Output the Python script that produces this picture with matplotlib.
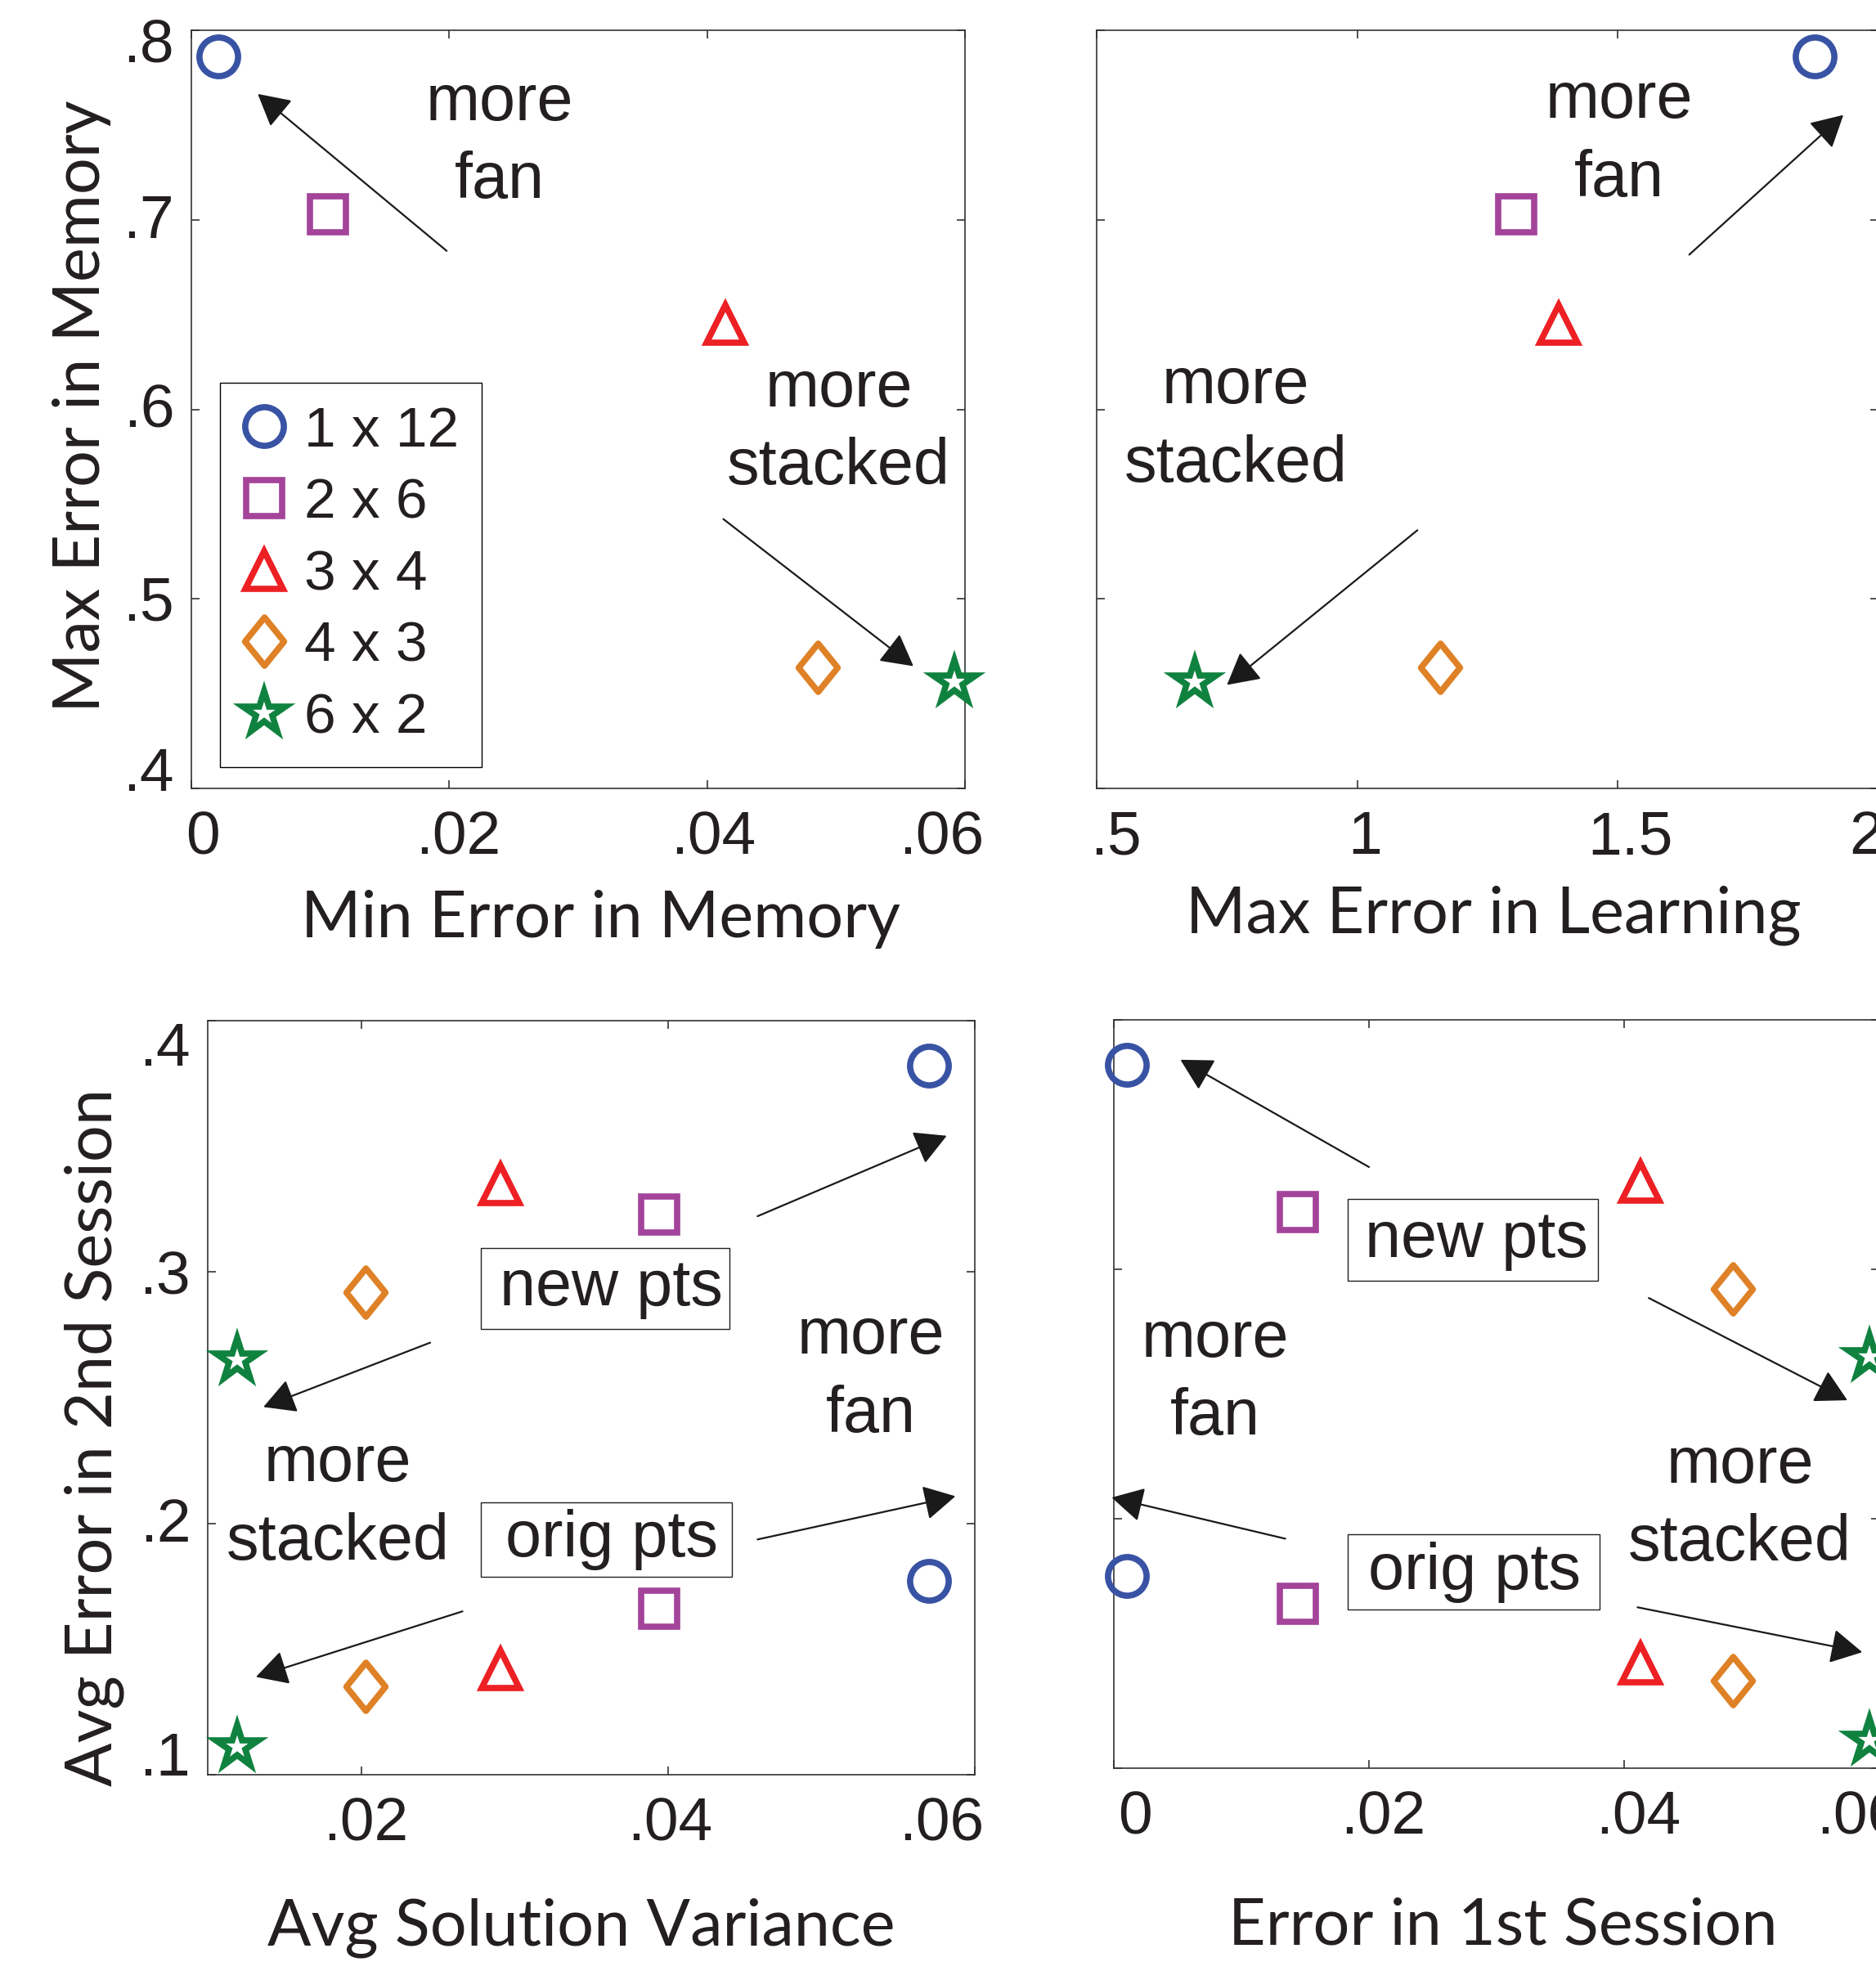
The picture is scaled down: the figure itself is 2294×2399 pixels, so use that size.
import matplotlib
matplotlib.use('Agg')
import matplotlib.pyplot as plt
from matplotlib.markers import MarkerStyle
from matplotlib.path import Path
from matplotlib.patches import Rectangle
from matplotlib.transforms import ScaledTranslation

W, H = 2294, 2399
DPI = 100

# ---------------- data ----------------
labels = ['1 x 12', '2 x 6', '3 x 4', '4 x 3', '6 x 2']
colors = ['#3953a4', '#a3449a', '#ed2024', '#df8126', '#10823f']

min_err_memory = [0.0021, 0.0106, 0.0414, 0.0486, 0.0592]
max_err_memory = [0.786, 0.703, 0.645, 0.464, 0.456]
max_err_learning = [1.877, 1.305, 1.387, 1.159, 0.688]

avg_solution_variance = [0.0570, 0.0394, 0.0291, 0.0203, 0.0119]
err_first_session = [0.0010, 0.0144, 0.0413, 0.0485, 0.0592]
avg_err_2nd_new = [0.382, 0.323, 0.335, 0.292, 0.265]
avg_err_2nd_orig = [0.177, 0.166, 0.142, 0.135, 0.111]

tl_xticks, tl_xticklabels = [0, 0.02, 0.04, 0.06], ['0', '.02', '.04', '.06']
tl_yticks, tl_yticklabels = [0.4, 0.5, 0.6, 0.7, 0.8], ['.4', '.5', '.6', '.7', '.8']
tr_xticks, tr_xticklabels = [0.5, 1.0, 1.5, 2.0], ['.5', '1', '1.5', '2']
bl_xticks, bl_xticklabels = [0.02, 0.04, 0.06], ['.02', '.04', '.06']
bl_yticks, bl_yticklabels = [0.1, 0.2, 0.3, 0.4], ['.1', '.2', '.3', '.4']
br_xticks, br_xticklabels = [0, 0.02, 0.04, 0.06], ['0', '.02', '.04', '.06']

# ---------------- style ----------------
plt.rcParams['font.family'] = ['Liberation Sans', 'DejaVu Sans']
TXT = '#231f20'
diamond_path = Path([(0, 1), (0.81, 0), (0, -1), (-0.81, 0), (0, 1)], closed=True)
markers = [MarkerStyle('o'),
           MarkerStyle('s', joinstyle='miter'),
           MarkerStyle('^', joinstyle='miter'),
           MarkerStyle(diamond_path, joinstyle='miter'),
           MarkerStyle('*', joinstyle='miter')]
msizes = [34, 32, 33, 42.5, 39]
MEW = 5.5

fig = plt.figure(figsize=(W / DPI, H / DPI), dpi=DPI)


def px_axes(x0, y0, x1, y1):
    return fig.add_axes([x0 / W, 1 - y1 / H, (x1 - x0) / W, (y1 - y0) / H])


ax1 = px_axes(234, 37, 1180, 964)
ax2 = px_axes(1341, 37, 2297, 964)
ax3 = px_axes(254, 1248, 1192, 2170)
ax4 = px_axes(1362, 1247, 2298, 2162)

for ax in (ax1, ax2, ax3, ax4):
    for s in ax.spines.values():
        s.set_linewidth(1.2)
        s.set_color('#333333')
    ax.tick_params(direction='in', length=7, width=1.2, color='#333333',
                   top=True, right=True, labelsize=54, labelcolor=TXT)
    ax.tick_params(axis='x', pad=19)
    ax.tick_params(axis='y', pad=15)


def scatter(ax, xs, ys_list):
    handles = []
    for i in range(len(labels)):
        xv = [xs[i]] * len(ys_list)
        yv = [ys[i] for ys in ys_list]
        h, = ax.plot(xv, yv, linestyle='none', marker=markers[i], ms=msizes[i],
                     mew=MEW, mec=colors[i], mfc='none', clip_on=False, zorder=3,
                     label=labels[i])
        handles.append(h)
    return handles


def arrow(ax, tail, head):
    ax.annotate('', xy=head, xytext=tail,
                arrowprops=dict(arrowstyle='-|>,head_length=1.1,head_width=0.6',
                                color='#1a1a1a', lw=1.6, mutation_scale=22,
                                shrinkA=0, shrinkB=0),
                annotation_clip=False)


def note(ax, x, y, s):
    ax.text(x, y, s, fontsize=57, ha='center', va='center', linespacing=1.35,
            color=TXT)


def boxed(x0, y0, x1, y1, s, tx):
    fig.patches.append(Rectangle((x0 / W, 1 - y1 / H), (x1 - x0) / W, (y1 - y0) / H,
                                 transform=fig.transFigure, fill=False,
                                 ec='#231f20', lw=1.0))
    fig.text(tx / W, 1 - (y0 + y1) / 2 / H, s, fontsize=57, ha='center',
             va='center', color=TXT)


def shift_labels(labels_, offsets, axis):
    for lab, d in zip(labels_, offsets):
        if axis == 'x':
            off = ScaledTranslation(d / DPI, 0, fig.dpi_scale_trans)
        else:
            off = ScaledTranslation(0, -d / DPI, fig.dpi_scale_trans)
        lab.set_transform(lab.get_transform() + off)


# ---- top-left ----
h1 = scatter(ax1, min_err_memory, [max_err_memory])
ax1.set_xlim(0, 0.06)
ax1.set_ylim(0.4, 0.8)
ax1.set_xticks(tl_xticks, tl_xticklabels)
ax1.set_yticks(tl_yticks, tl_yticklabels)
arrow(ax1, (0.0198, 0.6836), (0.00515, 0.7664))
arrow(ax1, (0.04126, 0.5421), (0.0560, 0.4645))
note(ax1, 0.0239, 0.741, 'more\nfan')
note(ax1, 0.0502, 0.590, 'more\nstacked')
leg = ax1.legend(handles=h1, labels=labels, loc='upper left',
                 bbox_to_anchor=((269 - 234) / 946, 1 - (468 - 37) / 927),
                 borderaxespad=0, fontsize=50, frameon=True, fancybox=False,
                 edgecolor='black', framealpha=1, borderpad=0.4, labelspacing=0.34,
                 handlelength=0.755, handletextpad=0.33, markerscale=1, numpoints=1)
leg.get_frame().set_linewidth(1.0)
for t in leg.get_texts():
    t.set_color(TXT)

# ---- top-right ----
scatter(ax2, max_err_learning, [max_err_memory])
ax2.set_xlim(0.5, 2.0)
ax2.set_ylim(0.4, 0.8)
ax2.set_xticks(tr_xticks, tr_xticklabels)
ax2.set_yticks(tl_yticks, [''] * len(tl_yticks))
arrow(ax2, (1.637, 0.6816), (1.9327, 0.7553))
arrow(ax2, (1.1154, 0.5362), (0.75, 0.4546))
note(ax2, 1.5024, 0.742, 'more\nfan')
note(ax2, 0.7668, 0.5914, 'more\nstacked')

# ---- bottom-left ----
scatter(ax3, avg_solution_variance, [avg_err_2nd_new, avg_err_2nd_orig])
ax3.set_xlim(0.01, 0.06)
ax3.set_ylim(0.1, 0.4)
ax3.set_xticks(bl_xticks, bl_xticklabels)
ax3.set_yticks(bl_yticks, bl_yticklabels)
arrow(ax3, (0.04584, 0.3222), (0.05817, 0.3542))
arrow(ax3, (0.0245, 0.2719), (0.01363, 0.2463))
arrow(ax3, (0.04584, 0.1936), (0.05874, 0.2108))
arrow(ax3, (0.02661, 0.1650), (0.01314, 0.1389))
boxed(588, 1526, 892, 1625, 'new pts', 747)
boxed(588, 1837, 895, 1928, 'orig pts', 748)
note(ax3, 0.05323, 0.2586, 'more\nfan')
note(ax3, 0.0185, 0.2079, 'more\nstacked')

# ---- bottom-right ----
scatter(ax4, err_first_session, [avg_err_2nd_new, avg_err_2nd_orig])
ax4.set_xlim(0, 0.06)
ax4.set_ylim(0.1, 0.4)
ax4.set_xticks(br_xticks, br_xticklabels)
ax4.set_yticks(bl_yticks, [''] * len(bl_yticks))
arrow(ax4, (0.0200, 0.341), (0.00522, 0.384))
arrow(ax4, (0.04193, 0.2885), (0.0575, 0.2475))
arrow(ax4, (0.01344, 0.192), (-0.00017, 0.2085))
arrow(ax4, (0.04105, 0.1645), (0.05867, 0.1465))
boxed(1648, 1466, 1954, 1566, 'new pts', 1805)
boxed(1648, 1876, 1956, 1968, 'orig pts', 1803)
note(ax4, 0.00796, 0.256, 'more\nfan')
note(ax4, 0.04908, 0.2055, 'more\nstacked')

# ---- MATLAB-like tick label nudges (pixels) ----
shift_labels(ax1.get_xticklabels(), [14, 11, 8, -29], 'x')
shift_labels(ax1.get_yticklabels(), [-24, -1, -5, -5, 12], 'y')
shift_labels(ax2.get_xticklabels(), [23, 9, 15, -15], 'x')
shift_labels(ax3.get_xticklabels(), [6, 2, -41], 'x')
shift_labels(ax3.get_yticklabels(), [-26, -5, 0, 28], 'y')
shift_labels(ax4.get_xticklabels(), [26, 17, 17, -25], 'x')


# ---- axis labels ----
def axis_label(x, y, s, rot=0):
    fig.text(x / W, 1 - y / H, s, fontsize=57, family=['Lato', 'DejaVu Sans'],
             ha='center', va='baseline', rotation=rot, rotation_mode='anchor',
             color=TXT)


axis_label(734, 1146, 'Min Error in Memory')
axis_label(1826, 1140, 'Max Error in Learning')
axis_label(711, 2378, 'Avg Solution Variance')
axis_label(1838, 2378, 'Error in 1st Session')
axis_label(122, 497, 'Max Error in Memory', rot=90)
axis_label(136, 1758, 'Avg Error in 2nd Session', rot=90)

fig.savefig('out.png', dpi=DPI, facecolor='white')
